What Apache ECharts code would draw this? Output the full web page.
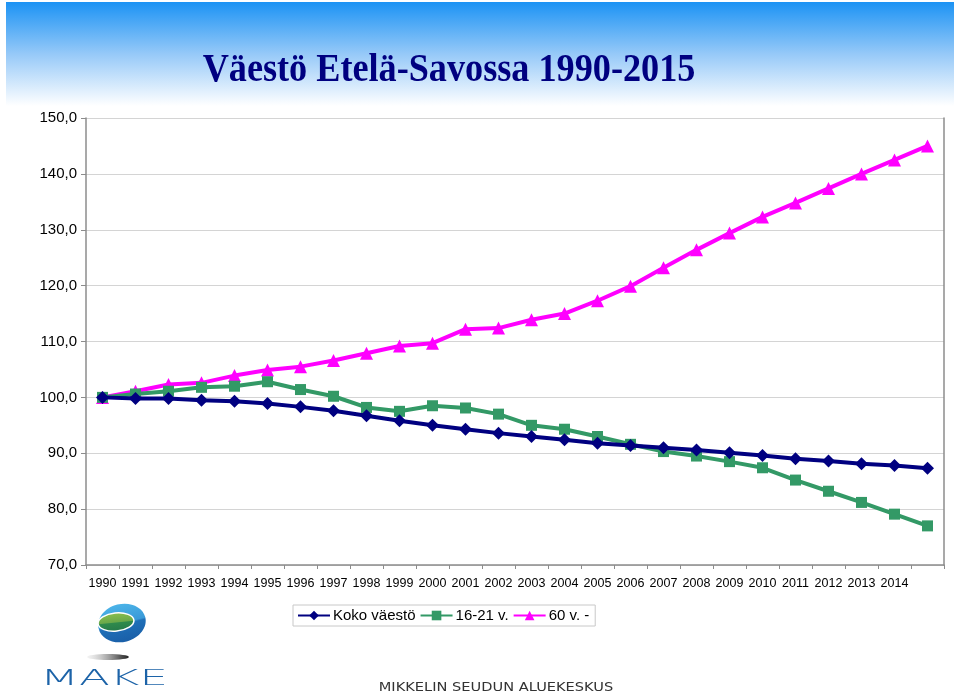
<!DOCTYPE html>
<html>
<head>
<meta charset="utf-8">
<script src="https://cdn.jsdelivr.net/npm/echarts@6/dist/echarts.min.js"></script>
<style>
html,body{margin:0;padding:0;background:#fff;}
#chart{width:960px;height:693px;}
</style>
</head>
<body>
<div id="chart"></div>
<script>
var years = ['1990','1991','1992','1993','1994','1995','1996','1997','1998','1999','2000','2001','2002','2003','2004','2005','2006','2007','2008','2009','2010','2011','2012','2013','2014','2015'];
var yearLabels = ['1990','1991','1992','1993','1994','1995','1996','1997','1998','1999','2000','2001','2002','2003','2004','2005','2006','2007','2008','2009','2010','2011','2012','2013','2014',''];
var seriesNames = ['Koko väestö', '16-21 v.', '60 v. -'];
var kokoVaesto = [100.0, 99.8, 99.8, 99.5, 99.3, 98.9, 98.3, 97.6, 96.7, 95.8, 95.0, 94.3, 93.6, 93.0, 92.4, 91.8, 91.4, 91.0, 90.6, 90.1, 89.6, 89.0, 88.6, 88.1, 87.8, 87.3];
var nuoret = [100.0, 100.6, 101.1, 101.8, 102.0, 102.8, 101.4, 100.2, 98.2, 97.5, 98.5, 98.1, 97.0, 95.0, 94.3, 93.0, 91.6, 90.3, 89.5, 88.5, 87.4, 85.2, 83.2, 81.2, 79.1, 77.0];
var seniorit = [100.0, 101.1, 102.3, 102.6, 103.9, 104.9, 105.5, 106.6, 107.9, 109.2, 109.7, 112.2, 112.4, 113.9, 115.0, 117.3, 119.9, 123.2, 126.4, 129.4, 132.3, 134.8, 137.4, 140.0, 142.5, 145.0];
var titleText = 'Väestö Etelä-Savossa 1990-2015';
var logoText = 'MAKE';
var orgText = 'MIKKELIN SEUDUN ALUEKESKUS';

var chart = echarts.init(document.getElementById('chart'), null, {renderer:'canvas'});
var font = '"Liberation Sans", Arial, sans-serif';
var option = {
  animation: false,
  backgroundColor: '#ffffff',
  grid: { left: 86, right: 16, top: 118, bottom: 128, containLabel: false },
  legend: {
    left: 293, top: 605,
    padding: [3, 6, 3, 4],
    itemWidth: 32, itemHeight: 12, itemGap: 4,
    borderColor: '#c8c8c8', borderWidth: 1, backgroundColor: '#fff',
    textStyle: { fontFamily: font, fontSize: 15, color: '#000', padding: [0,0,0,-2] },
    data: seriesNames
  },
  xAxis: {
    type: 'category',
    data: yearLabels,
    boundaryGap: true,
    axisLine: { lineStyle: { color: '#8c8c8c', width: 1.5 } },
    axisTick: { show: true, length: 4, inside: false, lineStyle: { color: '#8c8c8c' } },
    axisLabel: { fontFamily: font, fontSize: 12.5, color: '#000', margin: 12, interval: 0 },
    splitLine: { show: false }
  },
  yAxis: [{
    type: 'value',
    min: 70, max: 150, interval: 10,
    axisLine: { show: true, lineStyle: { color: '#8c8c8c', width: 1.5 } },
    axisTick: { show: true, length: 5, lineStyle: { color: '#8c8c8c' } },
    axisLabel: { fontFamily: font, fontSize: 15, color: '#000', margin: 9,
      formatter: function (v) { return v.toFixed(1).replace('.', ','); } },
    splitLine: { show: true, lineStyle: { color: '#d4d4d4', width: 1 } }
  }, {
    type: 'value', position: 'right',
    min: 70, max: 150, interval: 10,
    axisLine: { show: true, lineStyle: { color: '#8c8c8c', width: 1.5 } },
    axisTick: { show: false }, axisLabel: { show: false }, splitLine: { show: false }
  }],
  series: [{
    name: seriesNames[0], type: 'line', data: kokoVaesto,
    symbol: 'diamond', symbolSize: 13,
    lineStyle: { color: '#000080', width: 4 },
    itemStyle: { color: '#000080' }, z: 4
  }, {
    name: seriesNames[1], type: 'line', data: nuoret,
    symbol: 'rect', symbolSize: 11,
    lineStyle: { color: '#339966', width: 4 },
    itemStyle: { color: '#339966' }, z: 3
  }, {
    name: seriesNames[2], type: 'line', data: seniorit,
    symbol: 'triangle', symbolSize: 13,
    lineStyle: { color: '#ff00ff', width: 4 },
    itemStyle: { color: '#ff00ff' }, z: 2
  }],
  graphic: [
    { type: 'rect', z: -10, shape: { x: 6, y: 2, width: 948, height: 104 },
      style: { fill: new echarts.graphic.LinearGradient(0, 0, 0, 1, [
        { offset: 0, color: '#1c93f4' }, { offset: 0.5, color: '#96c9f8' }, { offset: 1, color: '#ffffff' }]) } },
    { type: 'text', x: 449, y: 71, scaleX: 0.905, z: 10,
      style: { text: titleText, fontFamily: '"Liberation Serif", "Times New Roman", serif', fontWeight: 'bold',
        fontSize: 40, fill: '#000080', align: 'center', verticalAlign: 'middle', textAlign: 'center', textVerticalAlign: 'middle' } },
    // logo
    { type: 'ellipse', x: 122, y: 623, rotation: 0.25, shape: { cx: 0, cy: 0, rx: 24, ry: 19 },
      style: { fill: new echarts.graphic.LinearGradient(0, 0, 0, 1, [
        { offset: 0, color: '#4bb3e8' }, { offset: 0.5, color: '#3a9ad8' }, { offset: 0.55, color: '#1f6fb8' }, { offset: 1, color: '#1a5fa8' }]) } },
    { type: 'ellipse', x: 116, y: 622, rotation: 0.1, shape: { cx: 0, cy: 0, rx: 18, ry: 9 },
      style: { stroke: '#ffffff', lineWidth: 1.5, fill: new echarts.graphic.LinearGradient(0, 0, 0, 1, [
        { offset: 0, color: '#8cc04f' }, { offset: 0.5, color: '#6aa84a' }, { offset: 0.55, color: '#2f8a4c' }, { offset: 1, color: '#26794a' }]) } },
    { type: 'ellipse', x: 108, y: 657, shape: { cx: 0, cy: 0, rx: 21, ry: 3 },
      style: { fill: new echarts.graphic.LinearGradient(0, 0, 1, 0, [
        { offset: 0, color: 'rgba(200,200,200,0.2)' }, { offset: 0.8, color: '#555' }, { offset: 1, color: '#222' }]) } },
    { type: 'text', x: 104, y: 680, scaleX: 2.15,
      style: { text: logoText, fontFamily: '"DejaVu Sans", sans-serif', fontWeight: 200, fontSize: 21,
        fill: '#1c63a8', align: 'center', verticalAlign: 'middle', textAlign: 'center', textVerticalAlign: 'middle' } },
    { type: 'text', x: 496, y: 688, scaleX: 1.27,
      style: { text: orgText, fontFamily: '"DejaVu Sans", sans-serif', fontSize: 11.5,
        fill: '#333', align: 'center', verticalAlign: 'middle', textAlign: 'center', textVerticalAlign: 'middle' } }
  ]
};
chart.setOption(option);
</script>
</body>
</html>
